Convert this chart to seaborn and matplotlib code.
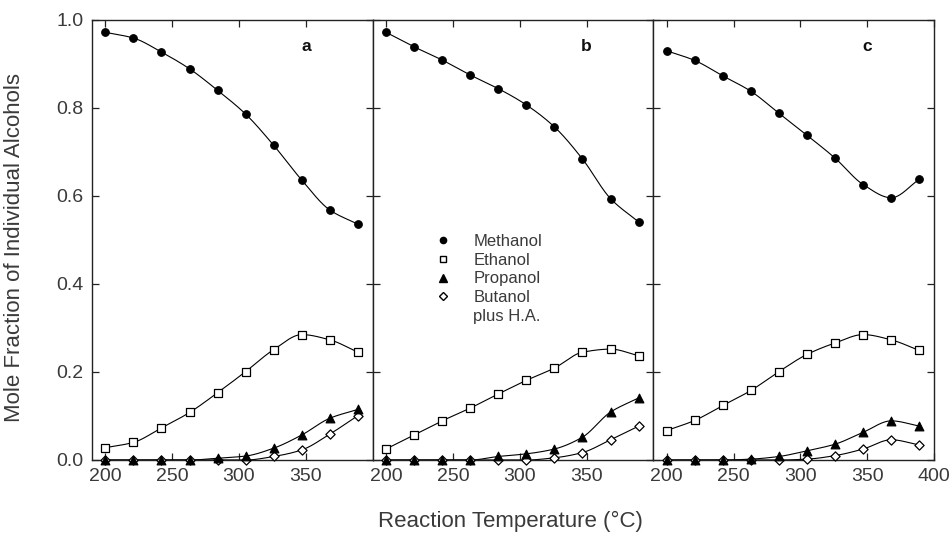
import numpy as np
import pandas as pd
import matplotlib
matplotlib.use("Agg")
import matplotlib.pyplot as plt
import seaborn as sns
from matplotlib.lines import Line2D

temperature = [200, 221, 242, 263, 284, 305, 326, 347, 368, 389]

methanol_a = [0.972, 0.959, 0.927, 0.889, 0.840, 0.786, 0.715, 0.636, 0.568, 0.536]
ethanol_a = [0.028, 0.040, 0.073, 0.108, 0.153, 0.201, 0.251, 0.285, 0.273, 0.245]
propanol_a = [0.0, 0.0, 0.0, 0.0, 0.004, 0.009, 0.027, 0.057, 0.095, 0.115]
butanol_a = [0.0, 0.0, 0.0, 0.0, 0.0, 0.0, 0.008, 0.023, 0.059, 0.101]

methanol_b = [0.972, 0.939, 0.909, 0.875, 0.844, 0.807, 0.757, 0.684, 0.594, 0.541]
ethanol_b = [0.025, 0.057, 0.089, 0.118, 0.150, 0.181, 0.209, 0.245, 0.252, 0.237]
propanol_b = [0.0, 0.0, 0.0, 0.0, 0.008, 0.014, 0.025, 0.052, 0.109, 0.141]
butanol_b = [0.0, 0.0, 0.0, 0.0, 0.0, 0.0, 0.005, 0.017, 0.046, 0.077]

methanol_c = [0.930, 0.908, 0.873, 0.838, 0.788, 0.738, 0.686, 0.626, 0.596, 0.638]
ethanol_c = [0.067, 0.090, 0.124, 0.158, 0.201, 0.240, 0.266, 0.285, 0.273, 0.249]
propanol_c = [0.0, 0.0, 0.0, 0.002, 0.008, 0.021, 0.036, 0.063, 0.089, 0.077]
butanol_c = [0.0, 0.0, 0.0, 0.0, 0.0, 0.002, 0.010, 0.025, 0.046, 0.034]

panel_labels = ["a", "b", "c"]
series_names = ["Methanol", "Ethanol", "Propanol", "Butanol", "plus H.A."]
y_ticks = [0.0, 0.2, 0.4, 0.6, 0.8, 1.0]

panels = [
    [methanol_a, ethanol_a, propanol_a, butanol_a],
    [methanol_b, ethanol_b, propanol_b, butanol_b],
    [methanol_c, ethanol_c, propanol_c, butanol_c],
]

sns.set_theme(style="white")
plt.rcParams['font.family'] = ['Liberation Sans', 'DejaVu Sans']
TXT = '#3a3a3a'


def smooth(x, y, n=30):
    """Monotone cubic (Fritsch-Carlson) curve through the points, for drawing."""
    x = np.asarray(x, float)
    y = np.asarray(y, float)
    h = np.diff(x)
    d = np.diff(y) / h
    m = np.zeros_like(y)
    m[0], m[-1] = d[0], d[-1]
    for i in range(1, len(y) - 1):
        if d[i - 1] * d[i] > 0:
            w1 = 2 * h[i] + h[i - 1]
            w2 = h[i] + 2 * h[i - 1]
            m[i] = (w1 + w2) / (w1 / d[i - 1] + w2 / d[i])
        else:
            m[i] = 0.0
    xs, ys = [], []
    for i in range(len(x) - 1):
        t = np.linspace(0, 1, n, endpoint=(i == len(x) - 2))
        h00 = 2 * t**3 - 3 * t**2 + 1
        h10 = t**3 - 2 * t**2 + t
        h01 = -2 * t**3 + 3 * t**2
        h11 = t**3 - t**2
        xs.append(x[i] + t * h[i])
        ys.append(h00 * y[i] + h10 * h[i] * m[i] + h01 * y[i + 1] + h11 * h[i] * m[i + 1])
    return np.concatenate(xs), np.concatenate(ys)


styles = [
    dict(marker='o', s=30, facecolor='black', edgecolor='black', linewidth=0.8),
    dict(marker='s', s=26, facecolor='white', edgecolor='black', linewidth=0.9),
    dict(marker='^', s=40, facecolor='black', edgecolor='black', linewidth=0.8),
    dict(marker='D', s=22, facecolor='white', edgecolor='black', linewidth=0.9),
]

fig = plt.figure(figsize=(9.52, 5.34), dpi=100)
left, right, top, bottom = 92 / 952, 934 / 952, 1 - 20 / 534, 1 - 460 / 534
w = (right - left) / 3
axes = [fig.add_axes([left + i * w, bottom, w, top - bottom]) for i in range(3)]

for k, ax in enumerate(axes):
    series = panels[k]
    for j in [3, 2, 1, 0]:
        vals = series[j]
        xs, ys = smooth(temperature, vals)
        ax.plot(xs, ys, color='black', lw=0.8, zorder=2)
        df = pd.DataFrame({'T': temperature, 'v': vals})
        st = styles[j]
        sns.scatterplot(data=df, x='T', y='v', ax=ax, marker=st['marker'], s=st['s'],
                        color=st['facecolor'], edgecolor=st['edgecolor'],
                        linewidth=st['linewidth'], zorder=3 + (3 - j) * 0.1, clip_on=False, legend=False)
    ax.set_xlim(190, 400)
    ax.set_ylim(0, 1.0)
    ax.set_xlabel('')
    ax.set_ylabel('')
    if k < 2:
        ax.set_xticks([200, 250, 300, 350])
    else:
        ax.set_xticks([200, 250, 300, 350, 400])
    ax.set_yticks(y_ticks)
    ax.tick_params(direction='in', length=5, width=0.9, top=True, right=True,
                   bottom=True, left=True, labelsize=14, labelcolor=TXT, pad=6, color='#222222')
    if k == 0:
        ax.set_yticklabels([f"{t:.1f}" for t in y_ticks])
    else:
        ax.tick_params(labelleft=False)
    for sp in ax.spines.values():
        sp.set_color('#222222')
        sp.set_linewidth(1.0)
        sp.set_visible(True)
    ax.text(350, 0.94, panel_labels[k], fontsize=12.5, fontweight='bold', ha='center', va='center',
            color='#111111')

handles = [
    Line2D([], [], linestyle='none', marker='o', markersize=4.5, markerfacecolor='black', markeredgecolor='black'),
    Line2D([], [], linestyle='none', marker='s', markersize=4.5, markerfacecolor='white', markeredgecolor='black'),
    Line2D([], [], linestyle='none', marker='^', markersize=5.5, markerfacecolor='black', markeredgecolor='black'),
    Line2D([], [], linestyle='none', marker='D', markersize=4.2, markerfacecolor='white', markeredgecolor='black'),
    Line2D([], [], linestyle='none', marker=None),
]
leg = axes[1].legend(handles, series_names, loc='upper left', bbox_to_anchor=(0.18, 0.54),
                     frameon=False, fontsize=12, labelspacing=0.22, handletextpad=1.3,
                     handlelength=1.0, borderpad=0.2)
for t in leg.get_texts():
    t.set_color(TXT)

fig.text(510 / 952, 1 - 521 / 534, 'Reaction Temperature (°C)', ha='center', va='center',
         fontsize=16, color=TXT)
fig.text(15 / 952, 1 - 248 / 534, 'Mole Fraction of Individual Alcohols', ha='center', va='center',
         rotation=90, fontsize=16, color=TXT)

fig.savefig('out.png', dpi=100)
